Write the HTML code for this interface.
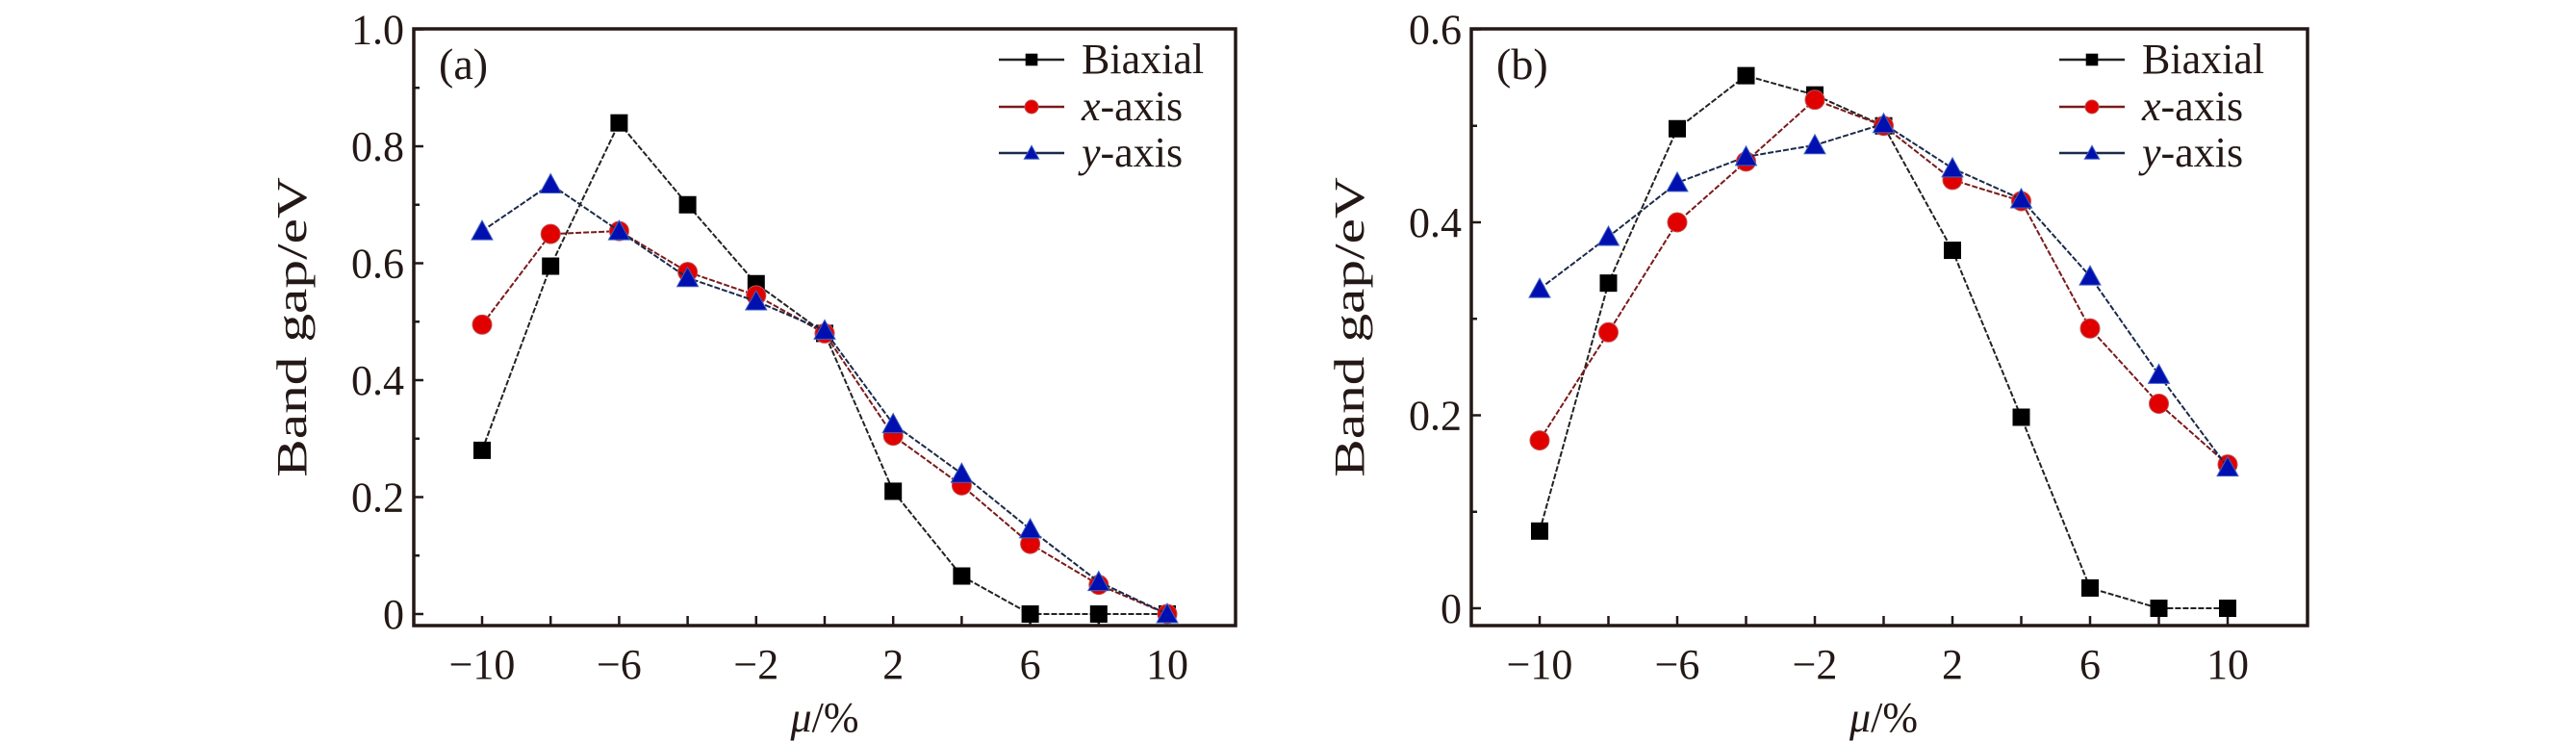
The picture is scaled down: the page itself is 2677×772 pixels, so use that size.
<!DOCTYPE html>
<html><head><meta charset="utf-8"><style>
html,body{margin:0;padding:0;background:#fff;}
svg{display:block;font-family:"Liberation Serif",serif;}
</style></head><body>
<svg id="chart" width="2677" height="772" viewBox="0 0 2677 772" xmlns="http://www.w3.org/2000/svg"></svg>
<script>
const strains = [-10,-8,-6,-4,-2,0,2,4,6,8,10];
const xTickLabels = [-10,-6,-2,2,6,10];
const aBiaxial = [0.28,0.595,0.84,0.70,0.565,0.48,0.21,0.065,0,0,0];
const aXaxis = [0.495,0.65,0.655,0.585,0.545,0.48,0.305,0.22,0.12,0.05,0];
const aYaxis = [0.655,0.735,0.655,0.575,0.535,0.485,0.325,0.24,0.145,0.055,0];
const aYTicks = [0,0.2,0.4,0.6,0.8,1.0];
const bBiaxial = [0.080,0.337,0.497,0.552,0.532,0.5,0.371,0.198,0.021,0,0];
const bXaxis = [0.174,0.286,0.4,0.463,0.527,0.5,0.444,0.422,0.29,0.212,0.149];
const bYaxis = [0.331,0.385,0.441,0.468,0.48,0.502,0.456,0.424,0.344,0.242,0.146];
const bYTicks = [0,0.2,0.4,0.6];

const NS="http://www.w3.org/2000/svg";
const svg=document.getElementById('chart');
function mk(tag,attrs,parent){const e=document.createElementNS(NS,tag);for(const k in attrs)e.setAttribute(k,attrs[k]);(parent||svg).appendChild(e);return e;}

function panel(cfg){
  const g=mk('g',{});
  
  
  const X=v=>cfg.x0+(v-(-10))/20*(cfg.x10-cfg.x0);
  const Y=v=>cfg.y0-v/cfg.ymax*(cfg.y0-cfg.ytop);
  const fr=mk('rect',{x:cfg.L,y:30,width:cfg.R-cfg.L,height:620,fill:'none',stroke:'#231815','stroke-width':3.5},g);
  
  
  for(let k=0;k<=Math.round(cfg.ymax*10);k++){
    const v=k/10;
    const major=k%2===0;
    mk('line',{x1:cfg.L,x2:cfg.L+(major?10:6),y1:Y(v),y2:Y(v),stroke:'#231815','stroke-width':2.5},g);
  }
  cfg.yTicks.forEach(t=>{
    const tx=mk('text',{x:cfg.L-10,y:Y(t)+15,'text-anchor':'end','font-size':44,fill:'#231815'},g);
    tx.textContent=(t===0?'0':t.toFixed(1));
    
    
  });
  strains.forEach(s=>{
    mk('line',{x1:X(s),x2:X(s),y1:650,y2:640,stroke:'#231815','stroke-width':2.5},g);
  });
  xTickLabels.forEach(t=>{
    const tx=mk('text',{x:X(t),y:705,'text-anchor':'middle','font-size':44,fill:'#231815'},g);
    tx.textContent=t<0?'\u2212'+(-t):String(t);
    
    
  });
  const yl=mk('text',{x:0,y:0,transform:`translate(${cfg.L-112},340) rotate(-90) scale(1.35,1)`,'text-anchor':'middle','font-size':44,fill:'#231815'},g);
  yl.textContent='Band gap/eV';
  
  
  const xl=mk('text',{x:(cfg.x0+cfg.x10)/2,y:760,'text-anchor':'middle','font-size':44,fill:'#231815'},g);
  xl.innerHTML='<tspan font-style="italic">μ</tspan>/%';
  
  
  const pl=mk('text',{x:cfg.L+26,y:82,'font-size':46,fill:'#231815'},g);
  pl.textContent='('+cfg.id+')';
  
  

  const series=[
    {name:'biaxial',vals:cfg.bi,color:'#000',line:'#222',shape:'sq'},
    {name:'x-axis',vals:cfg.xa,color:'#e00000',line:'#7a1a1a',shape:'ci'},
    {name:'y-axis',vals:cfg.ya,color:'#0010b0',line:'#1a2a4a',shape:'tr'}
  ];
  function marker(shape,cx,cy,color,parent,s){
    s=s||1;
    if(shape==='sq') return mk('rect',{x:cx-9*s,y:cy-9*s,width:18*s,height:18*s,fill:color},parent);
    if(shape==='ci') return mk('ellipse',{cx:cx,cy:cy,rx:10*s,ry:10*s,fill:color,stroke:'#c05050','stroke-width':1},parent);
    return mk('polygon',{points:`${cx},${cy-11*s} ${cx+11*s},${cy+9*s} ${cx-11*s},${cy+9*s}`,fill:color,stroke:'#4060c0','stroke-width':1},parent);
  }
  series.forEach(sr=>{
    const sg=mk('g',{},g);
    
    
    const pts=strains.map((s,i)=>X(s)+','+Y(sr.vals[i])).join(' ');
    mk('polyline',{points:pts,fill:'none',stroke:sr.line,'stroke-width':2,'stroke-dasharray':'6,2'},sg);
    strains.forEach((s,i)=>{
      const m=marker(sr.shape,X(s),Y(sr.vals[i]),sr.color,sg);
      
      
    });
  });
  const lg=mk('g',{},g);
  
  
  const labels=['Biaxial','<tspan font-style="italic">x</tspan>-axis','<tspan font-style="italic">y</tspan>-axis'];
  const rows=[62,111,159];
  series.forEach((sr,i)=>{
    const e=mk('g',{},lg);
    
    
    mk('line',{x1:cfg.lgx,x2:cfg.lgx+68,y1:rows[i],y2:rows[i],stroke:sr.line,'stroke-width':2.5},e);
    marker(sr.shape,cfg.lgx+34,rows[i],sr.color,e,0.7);
    const t=mk('text',{x:cfg.lgx+86,y:rows[i]+14,'font-size':44,fill:'#231815'},e);
    t.innerHTML=labels[i];
  });
}
panel({id:'a',L:430,R:1284,x0:501,x10:1213,y0:638,ytop:30.5,ymax:1.0,yTicks:aYTicks,bi:aBiaxial,xa:aXaxis,ya:aYaxis,lgx:1038});
panel({id:'b',L:1529,R:2398,x0:1600,x10:2315,y0:632,ytop:30.5,ymax:0.6,yTicks:bYTicks,bi:bBiaxial,xa:bXaxis,ya:bYaxis,lgx:2140});
</script>
</body></html>
